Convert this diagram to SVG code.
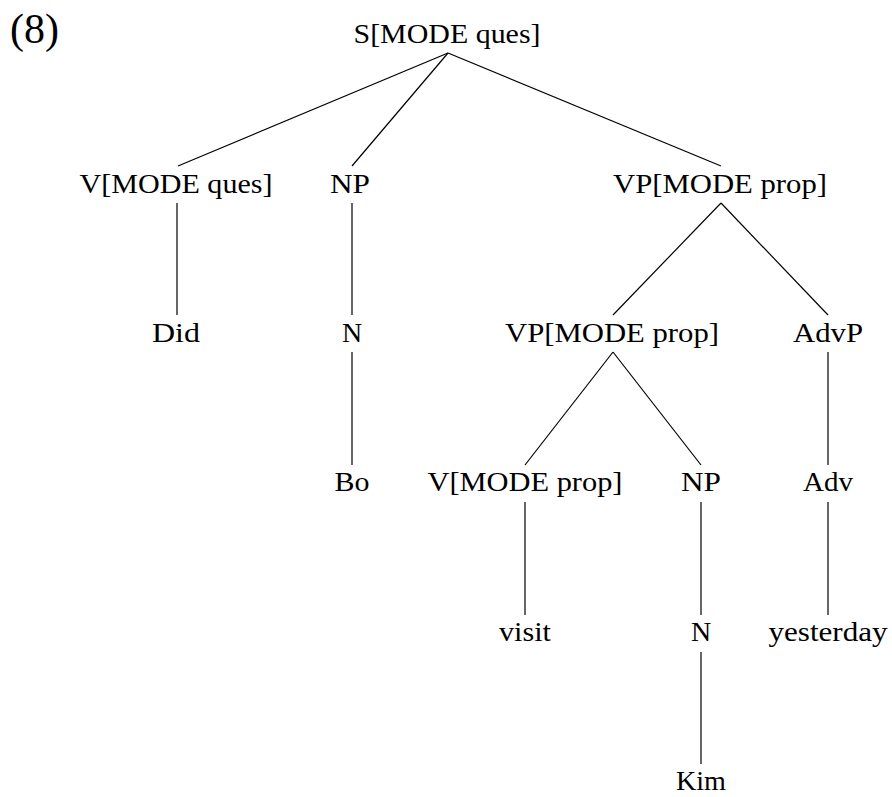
<svg xmlns="http://www.w3.org/2000/svg" width="892" height="797" viewBox="0 0 892 797">
<style>
text{font-family:"Liberation Serif","DejaVu Serif",serif;font-size:28px;fill:#000;text-anchor:middle}
.e line{stroke:#000;stroke-width:1.2}
</style>
<rect width="892" height="797" fill="#fff"/>
<text x="10" y="43" style="font-size:42px;text-anchor:start">(8)</text>
<g class="e" id="edges">
<line x1="448" y1="53" x2="178" y2="166"/>
<line x1="448" y1="53" x2="352" y2="166"/>
<line x1="448" y1="53" x2="721" y2="166"/>
<line x1="177" y1="203" x2="177" y2="315"/>
<line x1="352" y1="203" x2="352" y2="315"/>
<line x1="721" y1="203" x2="613" y2="315"/>
<line x1="721" y1="203" x2="828" y2="315"/>
<line x1="352" y1="352" x2="352" y2="465"/>
<line x1="613" y1="352" x2="525" y2="465"/>
<line x1="613" y1="352" x2="701" y2="465"/>
<line x1="828" y1="352" x2="828" y2="465"/>
<line x1="525" y1="502" x2="525" y2="615"/>
<line x1="701" y1="502" x2="701" y2="615"/>
<line x1="828" y1="502" x2="828" y2="615"/>
<line x1="701" y1="652" x2="701" y2="764"/>
</g>
<g id="S"><text x="447" y="43" textLength="187" lengthAdjust="spacingAndGlyphs">S[MODE ques]</text></g>
<g id="V1"><text x="176" y="193" textLength="193" lengthAdjust="spacingAndGlyphs">V[MODE ques]</text></g>
<g id="NP1"><text x="350" y="193" textLength="40" lengthAdjust="spacingAndGlyphs">NP</text></g>
<g id="VP1"><text x="720" y="193" textLength="214" lengthAdjust="spacingAndGlyphs">VP[MODE prop]</text></g>
<g id="Did"><text x="176" y="342" textLength="48" lengthAdjust="spacingAndGlyphs">Did</text></g>
<g id="N1"><text x="352" y="342">N</text></g>
<g id="VP2"><text x="612" y="342" textLength="214" lengthAdjust="spacingAndGlyphs">VP[MODE prop]</text></g>
<g id="AdvP"><text x="828" y="342" textLength="70" lengthAdjust="spacingAndGlyphs">AdvP</text></g>
<g id="Bo"><text x="352" y="491" textLength="35" lengthAdjust="spacingAndGlyphs">Bo</text></g>
<g id="V2"><text x="525" y="491" textLength="195" lengthAdjust="spacingAndGlyphs">V[MODE prop]</text></g>
<g id="NP2"><text x="701" y="491" textLength="40" lengthAdjust="spacingAndGlyphs">NP</text></g>
<g id="Adv"><text x="828" y="491" textLength="50" lengthAdjust="spacingAndGlyphs">Adv</text></g>
<g id="visit"><text x="525" y="641" textLength="52" lengthAdjust="spacingAndGlyphs">visit</text></g>
<g id="N2"><text x="701" y="641">N</text></g>
<g id="yesterday"><text x="828" y="641" textLength="119" lengthAdjust="spacingAndGlyphs">yesterday</text></g>
<g id="Kim"><text x="701" y="790" textLength="50" lengthAdjust="spacingAndGlyphs">Kim</text></g>
</svg>
